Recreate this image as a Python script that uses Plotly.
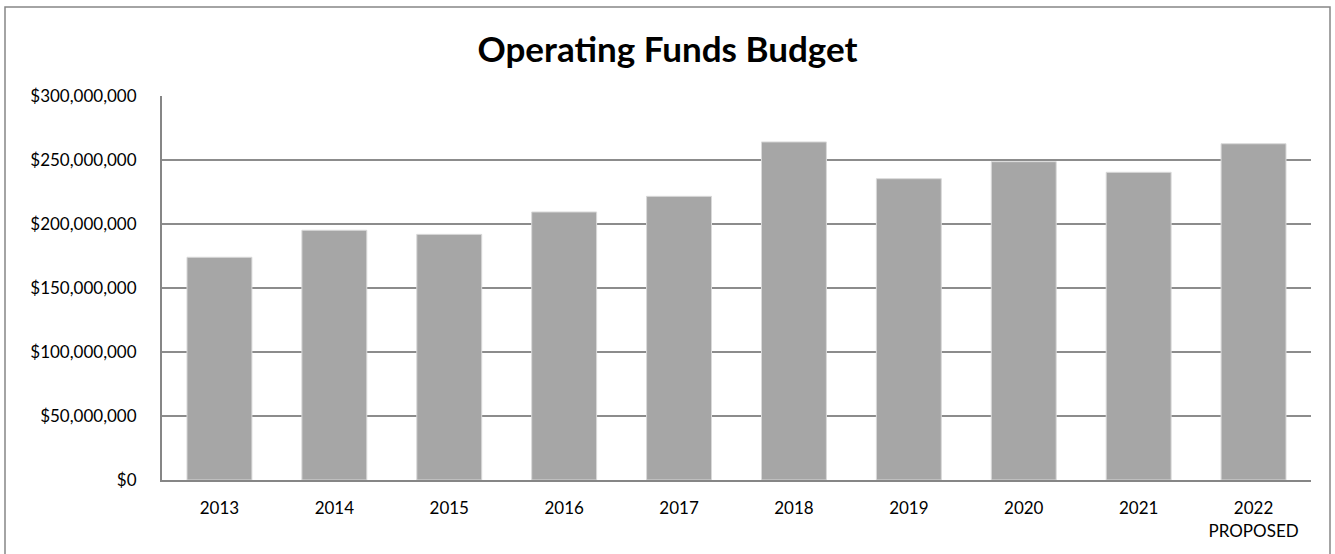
import plotly.graph_objects as go

years = ["2013", "2014", "2015", "2016", "2017", "2018", "2019", "2020", "2021", "2022"]
tick_labels = ["2013", "2014", "2015", "2016", "2017", "2018", "2019", "2020", "2021", "2022<br>PROPOSED"]
budget = [174.0e6, 195.1e6, 191.9e6, 209.4e6, 221.6e6, 264.1e6, 235.4e6, 248.7e6, 240.4e6, 262.7e6]
y_ticks = [0, 50e6, 100e6, 150e6, 200e6, 250e6, 300e6]
y_tick_text = ["${:,.0f}".format(v) for v in y_ticks]

fig = go.Figure(go.Bar(
    x=years, y=budget,
    marker=dict(color="#a6a6a6", line=dict(color="#d9d9d9", width=1)),
))

fig.update_layout(
    width=1335, height=554,
    margin=dict(l=162, r=24, t=96, b=74),
    paper_bgcolor="white", plot_bgcolor="white",
    bargap=0.435,
    showlegend=False,
    font=dict(family="Lato, Carlito, sans-serif", size=17, color="black"),
    title=dict(text="<b>Operating Funds Budget</b>", x=0.5, xanchor="center",
               y=1 - 50/554, yanchor="middle", font=dict(size=35, family="Lato, sans-serif")),
    xaxis=dict(tickmode="array", tickvals=years, ticktext=tick_labels,
               showline=True, linecolor="#868686", linewidth=2, ticks="",
               ticklabelstandoff=12,
               showgrid=False, tickfont=dict(size=17)),
    yaxis=dict(range=[0, 300e6], tickmode="array", tickvals=y_ticks, ticktext=y_tick_text,
               showline=True, linecolor="#868686", linewidth=2,
               showgrid=True, gridcolor="#8c8c8c", gridwidth=1.5,
               zeroline=False, ticks="", ticklabelstandoff=20, tickfont=dict(size=17)),
    shapes=[dict(type="rect", xref="paper", yref="paper",
                 x0=(5-162)/1149, x1=(1330-162)/1149,
                 y0=(480-560)/384, y1=(480-7)/384,
                 line=dict(color="#868686", width=1.5), fillcolor="rgba(0,0,0,0)", layer="below")],
)

fig.write_html("out.html", config={"displayModeBar": False},
               post_script="document.body.style.margin='0px';")
